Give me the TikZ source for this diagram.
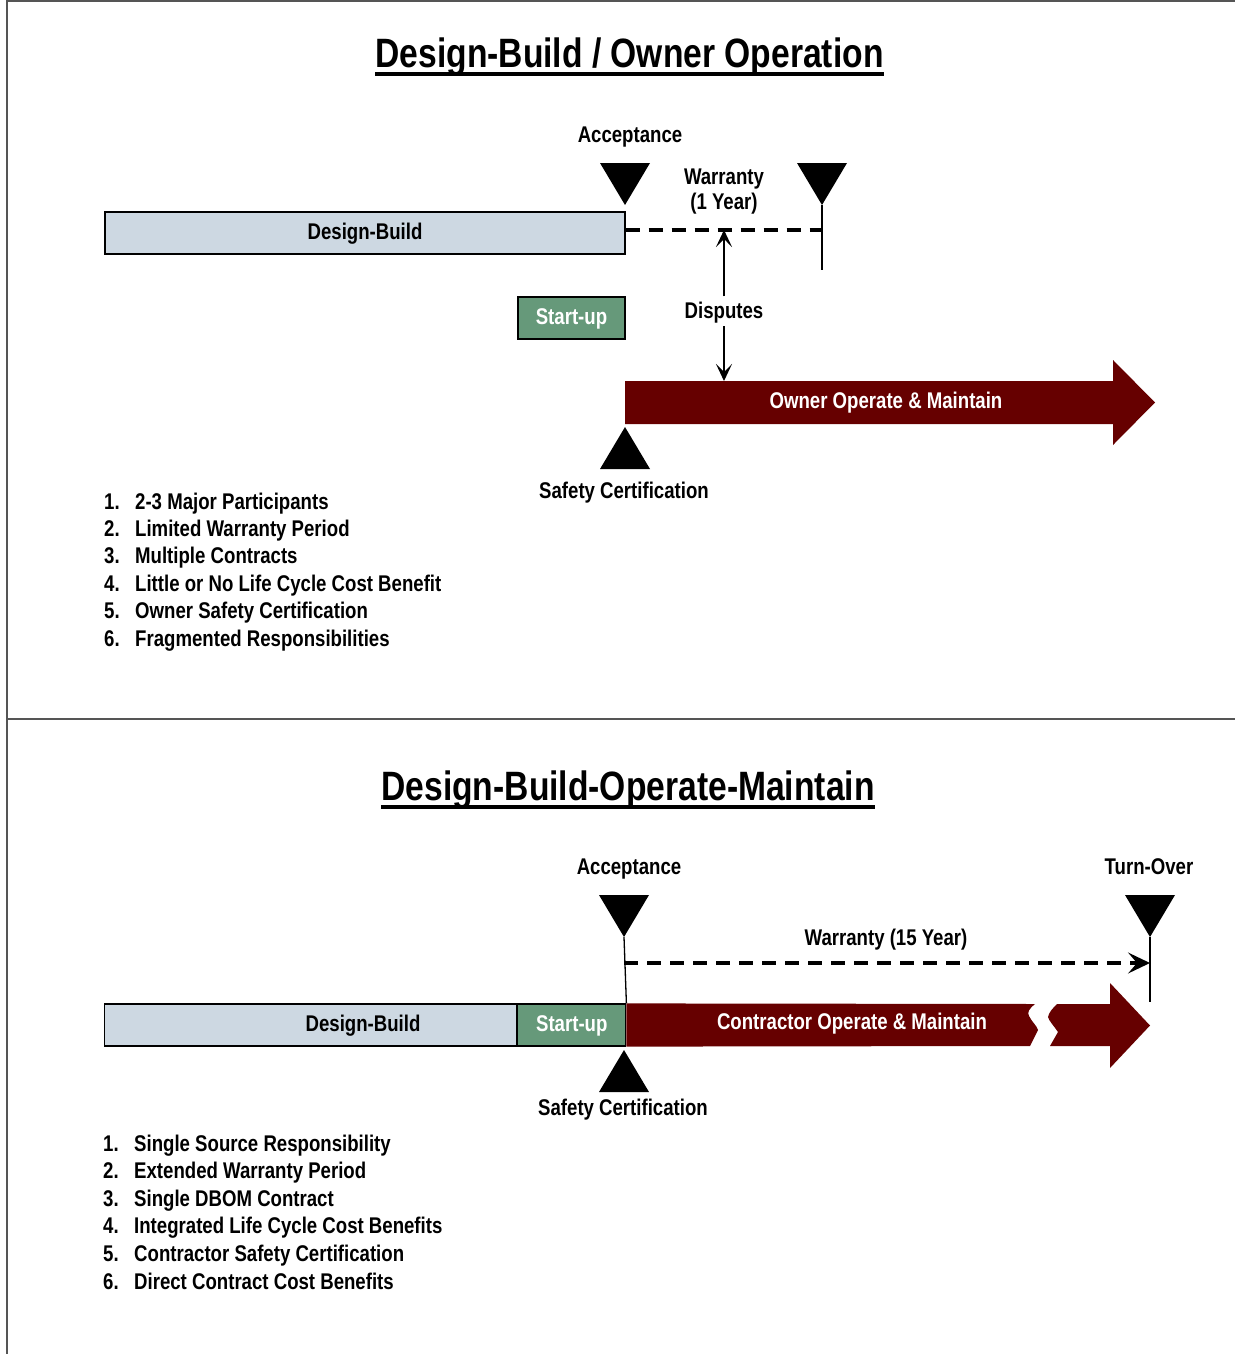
\documentclass[tikz,border=0pt]{standalone}
\usepackage{fontspec}
\setmainfont{Liberation Sans}[FakeStretch=0.82]
\usetikzlibrary{arrows.meta}

\definecolor{dbblue}{RGB}{205,216,226}
\definecolor{sugreen}{RGB}{102,153,122}
\definecolor{omred}{RGB}{102,0,0}
\definecolor{frame}{RGB}{85,85,85}

\tikzset{
  lbl/.style={inner sep=0pt, anchor=base, font=\fontsize{22.7}{26}\selectfont\bfseries},
  ttl/.style={inner sep=0pt, anchor=base, font=\fontsize{41}{46}\selectfont\bfseries},
  item/.style={inner sep=0pt, anchor=base west, font=\fontsize{22.7}{26}\selectfont\bfseries},
  phase/.style={draw=black, line width=1.2pt, inner sep=0pt, text height=14pt, text depth=2pt,
    font=\fontsize{22.7}{26}\selectfont\bfseries},
  dbbox/.style={phase, fill=dbblue},
  subox/.style={phase, fill=sugreen, text=white},
  marker/.style={fill=black},
  tick/.style={line width=1.3pt},
  warr/.style={line width=3.5pt, dash pattern=on 14pt off 9pt},
  disp/.style={line width=1.2pt, -{Stealth[length=17pt,width=16pt,inset=8pt]}},
  rule/.style={line width=3.5pt},
}

\newcommand{\itemline}[4]{\node[item] (#1) at (#2) {\makebox[31pt][l]{#3}#4};}

\begin{document}
\begin{tikzpicture}[x=1pt,y=-1pt]
\useasboundingbox (0,0) rectangle (1235,1354);

% page frame and section divider
\draw[frame, line width=2pt] (7,1354) -- (7,1) -- (1235,1);
\draw[frame, line width=2pt] (7,719) -- (1235,719);

% ================= Design-Build / Owner Operation =================
\node[ttl] (t1) at (629.5,67) {Design-Build / Owner Operation};
\draw[rule] ([yshift=-7pt]t1.base west) -- ([yshift=-7pt]t1.base east);

\node[lbl] (acc1) at (630,142) {Acceptance};
\node[lbl] (war1a) at (724,184) {Warranty};
\node[lbl] (war1b) at (724,209) {(1 Year)};

% acceptance and end-of-warranty markers
\coordinate (acc1tip) at (625,205);
\fill[marker] (600,163) -- (650,163) -- (acc1tip) -- cycle;
\coordinate (end1tip) at (822,205);
\fill[marker] (797,163) -- (847,163) -- (end1tip) -- cycle;
\coordinate (end1foot) at (822,270);
\draw[tick] (end1tip) -- (end1foot);

\node[dbbox, minimum width=520pt, minimum height=42pt] (db1) at (365,233) {Design-Build};

% one-year warranty period
\coordinate (war1end) at (822,230);
\draw[warr] (db1.east |- war1end) -- (war1end);
\coordinate (dispTop) at (724,230);

\node[subox, minimum width=107pt, minimum height=42pt] (su1) at (571.5,318) {Start-up};

% owner operation arrow
\coordinate (om1a) at (625,381);
\fill[omred] (om1a) -- (1113,381) -- (1113,360) -- (1155,402.5) -- (1113,445) -- (1113,424) -- (625,424) -- cycle;
\node[lbl, text=white] (om1) at (886,408) {Owner Operate \& Maintain};
\coordinate (dispBot) at (724,381);

\node[lbl] (disp) at (724,318) {Disputes};
\draw[disp] ([yshift=5pt]disp.north) -- (dispTop);
\draw[disp] ([yshift=-8pt]disp.base) -- (dispBot);

% safety certification marker
\coordinate (sc1tip) at (625,427);
\fill[marker] (sc1tip) -- (650,469) -- (600,469) -- cycle;
\node[lbl] (sc1) at (624,498) {Safety Certification};

\itemline{a1}{104,509}{1.}{2-3 Major Participants}
\itemline{a2}{104,536.4}{2.}{Limited Warranty Period}
\itemline{a3}{104,563.8}{3.}{Multiple Contracts}
\itemline{a4}{104,591.2}{4.}{Little or No Life Cycle Cost Benefit}
\itemline{a5}{104,618.6}{5.}{Owner Safety Certification}
\itemline{a6}{104,646}{6.}{Fragmented Responsibilities}

% ================= Design-Build-Operate-Maintain =================
\node[ttl] (t2) at (628,800) {Design-Build-Operate-Maintain};
\draw[rule] ([yshift=-7pt]t2.base west) -- ([yshift=-7pt]t2.base east);

\node[lbl] (acc2) at (629,874) {Acceptance};
\node[lbl] (turn) at (1149,874) {Turn-Over};
\node[lbl] (war2) at (886,945) {Warranty (15 Year)};

\coordinate (acc2tip) at (624,937);
\fill[marker] (599,895) -- (649,895) -- (acc2tip) -- cycle;
\coordinate (turntip) at (1150,937);
\fill[marker] (1125,895) -- (1175,895) -- (turntip) -- cycle;

\node[dbbox, minimum width=412pt, minimum height=42pt, anchor=west] (db2) at (104,1025) {};
\node[lbl] (db2lbl) at (363,1031) {Design-Build};
\node[subox, minimum width=108pt, minimum height=42pt, anchor=west] (su2) at (db2.east) {Start-up};

% contractor operation arrow with a break in time
\fill[omred] (su2.north east) -- (1035,1004)
  .. controls (1029,1009) and (1027,1012) .. (1029,1016)
  .. controls (1032,1022) and (1037,1026) .. (1038,1030)
  -- (1030,1046) -- (su2.south east) -- cycle;
\fill[omred] (1057,1004) -- (1110,1004) -- (1110,983) -- (1150,1025.5) -- (1110,1068)
  -- (1110,1046) -- (1050,1046) -- (1058,1032)
  .. controls (1054,1026) and (1049,1021) .. (1048,1017)
  .. controls (1049,1012) and (1053,1008) .. cycle;
\node[lbl, text=white] (om2) at (852,1029) {Contractor Operate \& Maintain};

\draw[tick] (acc2tip) -- (su2.north east);
\coordinate (turnfoot) at (1150,1002);
\draw[tick] (turntip) -- (turnfoot);

% fifteen-year warranty period
\coordinate (war2start) at (624,963);
\coordinate (war2end) at (1150,963);
\draw[warr] (war2start) -- ([xshift=-14pt]war2end);
\draw[line width=1.5pt, -{Stealth[length=22pt,width=21pt,inset=9pt]}] ([xshift=-16pt]war2end) -- (war2end);

\coordinate (sc2tip) at (624,1050);
\fill[marker] (sc2tip) -- (649,1092) -- (599,1092) -- cycle;
\node[lbl] (sc2) at (623,1115) {Safety Certification};

\itemline{b1}{103,1151}{1.}{Single Source Responsibility}
\itemline{b2}{103,1178.6}{2.}{Extended Warranty Period}
\itemline{b3}{103,1206.2}{3.}{Single DBOM Contract}
\itemline{b4}{103,1233.8}{4.}{Integrated Life Cycle Cost Benefits}
\itemline{b5}{103,1261.4}{5.}{Contractor Safety Certification}
\itemline{b6}{103,1289}{6.}{Direct Contract Cost Benefits}
\end{tikzpicture}
\end{document}
